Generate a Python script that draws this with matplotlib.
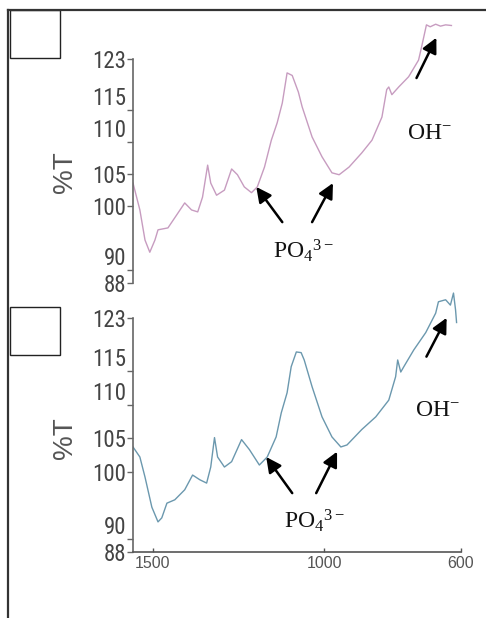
import matplotlib
matplotlib.use("Agg")
import matplotlib.pyplot as plt
from matplotlib.lines import Line2D
from matplotlib.patches import Rectangle
from matplotlib import font_manager

plt.rcParams['mathtext.default'] = 'regular'

# ---- data ----
wn_top = [1558, 1538, 1523, 1509, 1494, 1485, 1456, 1427, 1407, 1387, 1369, 1355,
          1340, 1331, 1314, 1291, 1270, 1253, 1233, 1212, 1195, 1174, 1154, 1137,
          1122, 1108, 1093, 1075, 1064, 1035, 1006, 977, 956, 927, 890, 860, 831,
          817, 811, 802, 782, 753, 724, 715, 701, 690, 674, 660, 645, 628]
t_top = [103.6, 99.4, 94.7, 92.8, 94.7, 96.3, 96.6, 98.9, 100.5, 99.4, 99.1, 101.4,
         106.4, 103.6, 101.7, 102.5, 105.8, 104.9, 103.0, 102.1, 103.0, 106.1, 110.3, 113.0,
         116.1, 120.8, 120.4, 117.8, 115.5, 110.8, 107.7, 105.2, 104.9, 106.1, 108.3, 110.3, 113.9,
         118.2, 118.6, 117.4, 118.6, 120.2, 122.8, 124.9, 128.3, 128.0, 128.4, 128.1, 128.3, 128.2]

wn_bot = [1558, 1538, 1523, 1503, 1485, 1474, 1459, 1436, 1407, 1384, 1363, 1343,
          1331, 1320, 1311, 1291, 1270, 1241, 1218, 1189, 1166, 1140, 1125, 1108,
          1096, 1081, 1067, 1058, 1035, 1006, 977, 951, 933, 890, 849, 811, 791,
          785, 776, 767, 738, 703, 674, 666, 645, 631, 622, 616, 613]
t_bot = [103.7, 102.2, 99.2, 94.7, 92.5, 93.1, 95.3, 95.8, 97.3, 99.5, 98.8, 98.3,
         100.7, 105.1, 102.2, 100.7, 101.5, 104.8, 103.3, 101.0, 102.2, 105.2, 108.8, 111.8,
         115.7, 117.9, 117.8, 116.7, 112.7, 108.2, 105.2, 103.7, 104.0, 106.3, 108.2, 110.7, 114.2,
         116.7, 114.9, 115.7, 118.2, 120.8, 123.7, 125.4, 125.7, 124.9, 126.7, 124.2, 122.3]

y_ticks = [88, 90, 100, 105, 110, 115, 123]
y_ticklabels = ['88', '90', '100', '105', '110', '115', '123']
x_ticks = [1500, 1000, 600]
x_ticklabels = ['1500', '1000', '600']

color_top = '#c79cc0'
color_bot = '#6b98ae'

# condensed font for the y tick labels, if one is installed
names = {f.name for f in font_manager.fontManager.ttflist}
narrow = [n for n in ('Liberation Sans Narrow', 'Arial Narrow', 'Roboto Condensed',
                      'Open Sans Condensed', 'Noto Sans Condensed') if n in names]

fig = plt.figure(figsize=(4.86, 6.18), dpi=100)

ax_top = fig.add_axes([0.2737, 0.5421, 0.6749, 0.4353])
ax_bot = fig.add_axes([0.2737, 0.1068, 0.6749, 0.4547])

for ax in (ax_top, ax_bot):
    ax.set_xlim(1558, 600)
    ax.set_ylim(88, 130)
    ax.patch.set_visible(False)
    for s in ('top', 'right'):
        ax.spines[s].set_visible(False)
    ax.spines['left'].set_bounds(88, 123)
    ax.spines['left'].set_color('#666666')
    ax.spines['left'].set_linewidth(1.2)
    ax.set_yticks(y_ticks)
    ax.set_yticklabels(y_ticklabels)
    for lab in ax.get_yticklabels():
        lab.set_family(narrow + ['DejaVu Sans'])
        lab.set_stretch('condensed')
        lab.set_fontsize(16.5)
        lab.set_color('#444444')
        if lab.get_text() in ('90', '110', '115'):
            lab.set_va('bottom')
    ax.tick_params(axis='y', direction='out', length=4, width=1, color='#666666', pad=1)

ax_top.spines['bottom'].set_visible(False)
ax_top.set_xticks([])

ax_bot.spines['bottom'].set_color('#555555')
ax_bot.spines['bottom'].set_linewidth(1.2)
ax_bot.set_xticks(x_ticks)
ax_bot.set_xticklabels(x_ticklabels, family=['Liberation Sans', 'DejaVu Sans'],
                       fontsize=11.5, color='#555555')
ax_bot.tick_params(axis='x', direction='in', length=3, width=1, color='#555555', pad=3)

ax_top.plot(wn_top, t_top, color=color_top, lw=1.0)
ax_bot.plot(wn_bot, t_bot, color=color_bot, lw=1.0)

arrow_kw = dict(arrowstyle='-|>,head_length=0.9,head_width=0.45', color='black', lw=1.8,
                shrinkA=0, shrinkB=0)
txt_kw = dict(family=['Liberation Serif', 'DejaVu Serif'], fontsize=17, color='#111111',
              va='center', ha='left')

# top annotations
ax_top.annotate('', xy=(1198, 103.0), xytext=(1122, 97.5), arrowprops=arrow_kw)
ax_top.annotate('', xy=(974, 103.6), xytext=(1035, 97.5), arrowprops=arrow_kw)
ax_top.annotate('', xy=(672, 126.3), xytext=(730, 120.0), arrowprops=arrow_kw, annotation_clip=False)
ax_top.text(1148, 93.0, 'PO$_4$$^{3-}$', **txt_kw)
ax_top.text(759, 111.3, 'OH$^{-}$', **txt_kw)

# bottom annotations
ax_bot.annotate('', xy=(1169, 102.2), xytext=(1093, 96.8), arrowprops=arrow_kw)
ax_bot.annotate('', xy=(962, 103.0), xytext=(1023, 96.8), arrowprops=arrow_kw)
ax_bot.annotate('', xy=(642, 123.0), xytext=(701, 117.2), arrowprops=arrow_kw)
ax_bot.text(1116, 92.7, 'PO$_4$$^{3-}$', **txt_kw)
ax_bot.text(735, 109.2, 'OH$^{-}$', **txt_kw)

# %T labels
for yc in (0.7217, 0.2913):
    fig.text(0.1337, yc, '%T', rotation=90, ha='center', va='center',
             family=['Liberation Sans', 'DejaVu Sans'], fontsize=20, color='#555555')

# outer frame (top and left edges)
fig.add_artist(Line2D([0.0165, 0.0165], [0.0, 0.9838], transform=fig.transFigure,
                      color='#333333', lw=1.6))
fig.add_artist(Line2D([0.0165, 1.0], [0.9838, 0.9838], transform=fig.transFigure,
                      color='#333333', lw=1.6))

# empty label boxes
for y0 in (0.9061, 0.4256):
    fig.add_artist(Rectangle((0.0206, y0), 0.1029, 0.0777, transform=fig.transFigure,
                             fill=False, edgecolor='#222222', lw=1.0))

fig.savefig('out.png', dpi=100)
